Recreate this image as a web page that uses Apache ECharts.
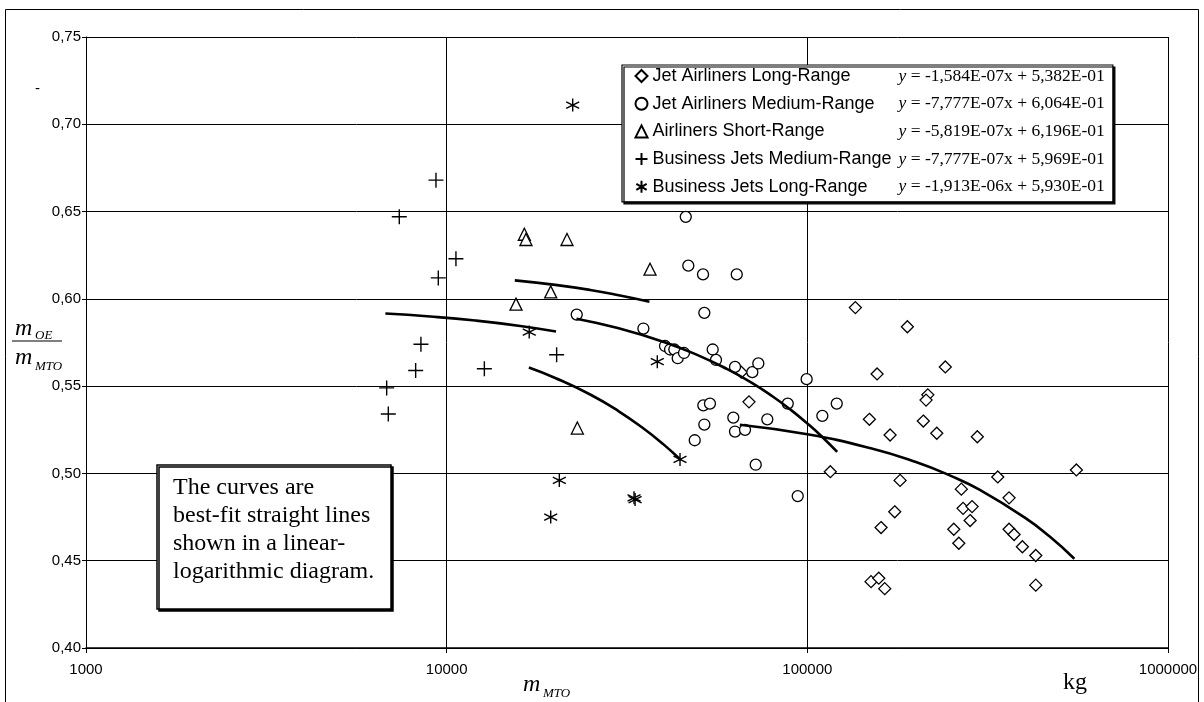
<!DOCTYPE html>
<html>
<head>
<meta charset="utf-8">
<script src="https://cdn.jsdelivr.net/npm/echarts@6/dist/echarts.min.js"></script>
<style>
  html, body { margin: 0; padding: 0; background: #fff; }
  #chart { width: 1204px; height: 702px; }
</style>
</head>
<body>
<div id="chart"></div>
<script>
// point data: [m_MTO in kg, m_OE/m_MTO]
var jetLongRange = [
  [65580, 0.558], [68900, 0.541], [115800, 0.501], [135880, 0.595], [189400, 0.584],
  [156100, 0.557], [241300, 0.561], [215800, 0.545], [213400, 0.542], [148600, 0.531],
  [209700, 0.530], [169600, 0.522], [228500, 0.523], [296000, 0.521], [557200, 0.502],
  [180800, 0.496], [337300, 0.498], [267300, 0.491], [362500, 0.486], [270300, 0.480],
  [286300, 0.481], [174700, 0.478], [282700, 0.473], [160100, 0.469], [254700, 0.468],
  [263000, 0.460], [362500, 0.468], [374300, 0.465], [394700, 0.458], [429900, 0.453],
  [429900, 0.436], [150200, 0.438], [157800, 0.440], [163900, 0.434]
];
var jetMediumRange = [
  [22940, 0.591], [35110, 0.583], [46020, 0.647], [46770, 0.619], [51380, 0.614],
  [63720, 0.614], [51810, 0.592], [40310, 0.573], [41630, 0.571], [42780, 0.571],
  [43710, 0.566], [45500, 0.569], [54650, 0.571], [55810, 0.565], [63020, 0.561],
  [70390, 0.558], [73130, 0.563], [99560, 0.554], [51480, 0.539], [53700, 0.540],
  [51810, 0.528], [62340, 0.532], [63020, 0.524], [67180, 0.525], [77450, 0.531],
  [88250, 0.540], [48730, 0.519], [71930, 0.505], [94050, 0.487], [110050, 0.533],
  [120660, 0.540]
];
var airlinerShortRange = [
  [16420, 0.637], [16590, 0.634], [21560, 0.634], [36630, 0.617], [19430, 0.604],
  [15570, 0.597], [23030, 0.526]
];
var bizMediumRange = [
  [9340, 0.668], [7390, 0.647], [10610, 0.623], [9480, 0.612], [8485, 0.574],
  [20180, 0.568], [8204, 0.559], [12720, 0.560], [6818, 0.549], [6890, 0.534]
];
var bizLongRange = [
  [22360, 0.711], [16940, 0.581], [38370, 0.564], [44360, 0.508], [33070, 0.486],
  [33300, 0.485], [20530, 0.496], [19430, 0.475]
];

// trend curves, points
var fitLongRange = [
  [65000, 0.5279], [100000, 0.5224], [150000, 0.5144], [200000, 0.5065], [250000, 0.4986],
  [300000, 0.4907], [400000, 0.4748], [470000, 0.4638], [550000, 0.4511]
];
var fitMediumRange = [
  [22900, 0.5886], [30000, 0.5831], [40000, 0.5753], [50000, 0.5675], [60000, 0.5597],
  [70000, 0.5520], [80000, 0.5442], [90000, 0.5364], [100000, 0.5286], [110000, 0.5209],
  [121000, 0.5123]
];
var fitShortRange = [
  [15450, 0.6106], [20000, 0.6080], [25000, 0.6051], [30000, 0.6021], [36500, 0.5984]
];
var fitBizMedium = [
  [6760, 0.5916], [9000, 0.5899], [12000, 0.5876], [16000, 0.5845], [20100, 0.5813]
];
var fitBizLong = [
  [16900, 0.5607], [20000, 0.5547], [25000, 0.5452], [30000, 0.5356], [35000, 0.5260],
  [40000, 0.5165], [44200, 0.5084]
];

var seriesNames = [
  'Jet Airliners Long-Range',
  'Jet Airliners Medium-Range',
  'Airliners Short-Range',
  'Business Jets Medium-Range',
  'Business Jets Long-Range'
];
var equations = [
  ' = -1,584E-07x + 5,382E-01',
  ' = -7,777E-07x + 6,064E-01',
  ' = -5,819E-07x + 6,196E-01',
  ' = -7,777E-07x + 5,969E-01',
  ' = -1,913E-06x + 5,930E-01'
];
var xTicks = [1000, 10000, 100000, 1000000];
var noteLines = ['The curves are', 'best-fit straight lines', 'shown in a linear-', 'logarithmic diagram.'];

var SANS = '"Liberation Sans", Arial, sans-serif';
var SERIF = '"Liberation Serif", "Times New Roman", serif';

var plusPath = 'path://M5,0L5,10M0,5L10,5';
var starPath = 'path://M5,0L5,10M0.7,2.5L9.3,7.5M0.7,7.5L9.3,2.5';

var pointSets = [jetLongRange, jetMediumRange, airlinerShortRange, bizMediumRange, bizLongRange];
var fitSets = [fitLongRange, fitMediumRange, fitShortRange, fitBizMedium, fitBizLong];
var symbols = ['diamond', 'circle', 'triangle', plusPath, starPath];
var sizes = [12, 11, 12, 15, 13];

var series = [];
pointSets.forEach(function (data, i) {
  var open = i < 3;
  series.push({
    name: seriesNames[i],
    type: 'scatter',
    data: data,
    symbol: symbols[i],
    symbolSize: sizes[i],
    z: 2,
    itemStyle: {
      color: open ? '#fff' : 'none',
      borderColor: '#000',
      borderWidth: open ? 1.3 : 1.4,
      opacity: 1
    },
    emphasis: { disabled: true }
  });
});
fitSets.forEach(function (data, i) {
  series.push({
    name: 'fit ' + i,
    type: 'line',
    data: data,
    smooth: true,
    showSymbol: false,
    symbol: 'none',
    z: 3,
    lineStyle: { color: '#000', width: 2.6 },
    emphasis: { disabled: true }
  });
});

var chart = echarts.init(document.getElementById('chart'));
chart.setOption({
  animation: false,
  backgroundColor: '#fff',
  grid: { left: 86, right: 36, top: 37, bottom: 54, containLabel: false },
  xAxis: {
    type: 'log',
    logBase: 10,
    min: xTicks[0],
    max: xTicks[xTicks.length - 1],
    axisLine: { show: true, lineStyle: { color: '#000', width: 1.5 } },
    axisTick: { show: true, inside: false, length: 5, lineStyle: { color: '#000' } },
    minorTick: { show: false },
    splitLine: { show: true, lineStyle: { color: '#000', width: 1 } },
    axisLabel: {
      color: '#000',
      fontFamily: SANS,
      fontSize: 15,
      margin: 14,
      formatter: function (v) { return String(Math.round(v)); }
    }
  },
  yAxis: {
    type: 'value',
    min: 0.40,
    max: 0.75,
    interval: 0.05,
    axisLine: { show: true, lineStyle: { color: '#000', width: 1 } },
    axisTick: { show: true, inside: false, length: 4, lineStyle: { color: '#000' } },
    splitLine: { show: true, lineStyle: { color: '#000', width: 1 } },
    axisLabel: {
      color: '#000',
      fontFamily: SANS,
      fontSize: 15,
      margin: 5,
      formatter: function (v) { return v.toFixed(2).replace('.', ','); }
    }
  },
  legend: {
    data: seriesNames,
    orient: 'vertical',
    left: 622,
    top: 65,
    padding: [2, 8, 6, 11],
    itemWidth: 12,
    itemHeight: 12,
    itemGap: 9.7,
    itemTextGap: 4,
    backgroundColor: '#fff',
    borderColor: '#000',
    borderWidth: 1.2,
    borderRadius: 0,
    shadowColor: '#000',
    shadowBlur: 0,
    shadowOffsetX: 2,
    shadowOffsetY: 2,
    selectedMode: false,
    formatter: function (name) {
      var i = seriesNames.indexOf(name);
      return '{n|' + name + '}{y|y}{e|' + equations[i] + '}';
    },
    textStyle: {
      color: '#000',
      rich: {
        n: { fontFamily: SANS, fontSize: 18, lineHeight: 18, width: 246, color: '#000' },
        y: { fontFamily: SERIF, fontStyle: 'italic', fontSize: 17.5, lineHeight: 18, color: '#000' },
        e: { fontFamily: SERIF, fontSize: 17.5, lineHeight: 18, color: '#000' }
      }
    }
  },
  graphic: [
    {
      type: 'rect', silent: true, z: 100,
      shape: { x: 5.5, y: 9.5, width: 1193, height: 720 },
      style: { fill: 'none', stroke: '#000', lineWidth: 1 }
    },
    {
      type: 'rect', silent: true, z: 100,
      shape: { x: 157, y: 465, width: 234, height: 144 },
      style: {
        fill: '#fff', stroke: '#000', lineWidth: 1.5,
        shadowColor: '#000', shadowBlur: 0, shadowOffsetX: 2, shadowOffsetY: 2
      }
    },
    {
      type: 'text', silent: true, z: 101,
      style: {
        text: noteLines.join('\n'),
        x: 173, y: 474,
        fontFamily: SERIF, fontSize: 24, lineHeight: 27.8,
        fill: '#000', verticalAlign: 'top'
      }
    },
    // y axis unit and name
    {
      type: 'text', silent: true, z: 101,
      style: { text: '-', x: 35, y: 89, fontFamily: SANS, fontSize: 15, fill: '#000', verticalAlign: 'middle' }
    },
    {
      type: 'text', silent: true, z: 101,
      style: { text: 'm', x: 15, y: 329, fontFamily: SERIF, fontStyle: 'italic', fontSize: 24, fill: '#000', verticalAlign: 'middle' }
    },
    {
      type: 'text', silent: true, z: 101,
      style: { text: 'OE', x: 35, y: 336, fontFamily: SERIF, fontStyle: 'italic', fontSize: 13, fill: '#000', verticalAlign: 'middle' }
    },
    {
      type: 'line', silent: true, z: 101,
      shape: { x1: 12, y1: 341, x2: 62, y2: 341 },
      style: { stroke: '#000', lineWidth: 1 }
    },
    {
      type: 'text', silent: true, z: 101,
      style: { text: 'm', x: 15, y: 358, fontFamily: SERIF, fontStyle: 'italic', fontSize: 24, fill: '#000', verticalAlign: 'middle' }
    },
    {
      type: 'text', silent: true, z: 101,
      style: { text: 'MTO', x: 35, y: 367, fontFamily: SERIF, fontStyle: 'italic', fontSize: 13, fill: '#000', verticalAlign: 'middle' }
    },
    // x axis name and unit
    {
      type: 'text', silent: true, z: 101,
      style: { text: 'm', x: 523, y: 685, fontFamily: SERIF, fontStyle: 'italic', fontSize: 24, fill: '#000', verticalAlign: 'middle' }
    },
    {
      type: 'text', silent: true, z: 101,
      style: { text: 'MTO', x: 543, y: 694, fontFamily: SERIF, fontStyle: 'italic', fontSize: 13, fill: '#000', verticalAlign: 'middle' }
    },
    {
      type: 'text', silent: true, z: 101,
      style: { text: 'kg', x: 1063, y: 683, fontFamily: SERIF, fontSize: 24, fill: '#000', verticalAlign: 'middle' }
    }
  ],
  series: series
});
</script>
</body>
</html>
